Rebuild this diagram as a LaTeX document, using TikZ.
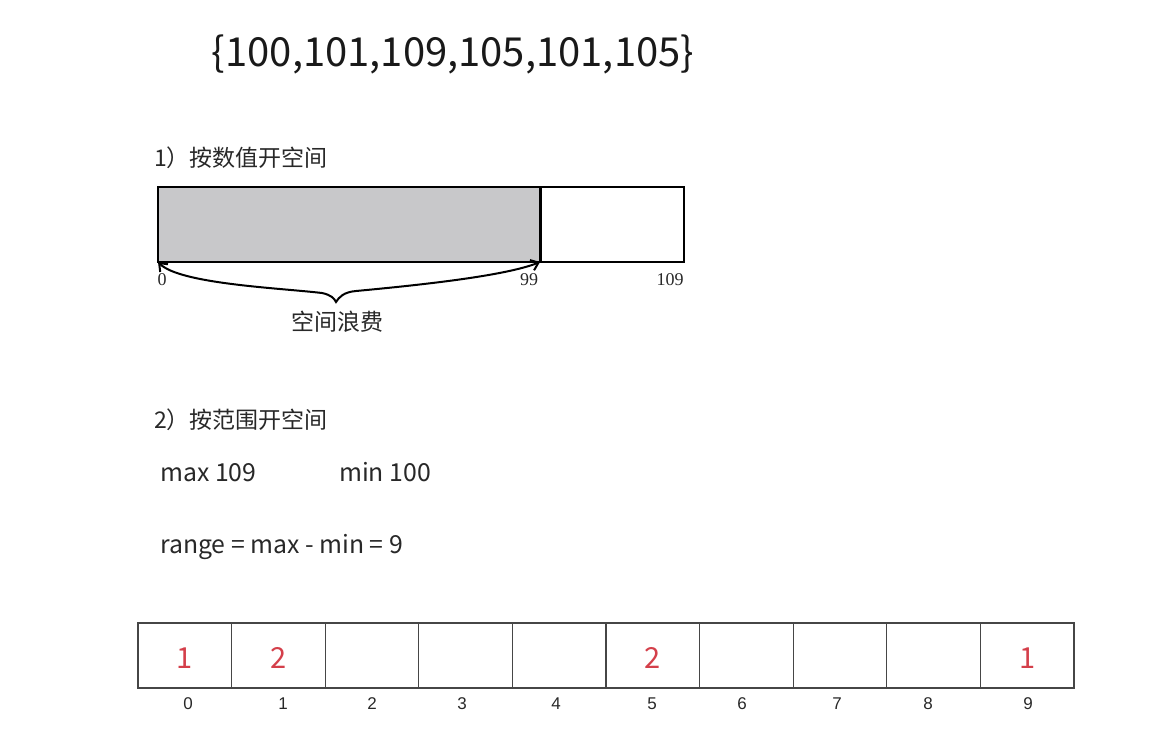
\documentclass[tikz,border=0pt]{standalone}
\usepackage{fontspec}
\setmainfont{Noto Sans CJK SC}
\newfontfamily\serifnum{Liberation Serif}
\newfontfamily\sansnum{Liberation Sans}
\usetikzlibrary{arrows.meta}
\definecolor{txt}{RGB}{40,40,40}
\definecolor{barfill}{RGB}{200,200,202}
\definecolor{cntred}{RGB}{212,63,74}
\definecolor{cellline}{RGB}{70,70,70}
\tikzset{
  heading/.style={font=\fontsize{23}{23}\selectfont, text=txt, inner sep=0pt},
  bodytext/.style={font=\fontsize{24.8}{25}\selectfont, text=txt, inner sep=0pt},
  barbox/.style={draw=black, line width=2pt, inner sep=0pt, outer sep=0pt, anchor=north west, minimum height=75pt},
  barnum/.style={font=\serifnum\fontsize{18}{18}\selectfont, text=txt, inner sep=0pt},
  bracepath/.style={line width=2pt, {Straight Barb[length=7pt,width=11pt]}-{Straight Barb[length=7pt,width=11pt]}},
  cellbox/.style={draw=cellline, line width=1.3pt, inner sep=0pt, outer sep=0pt, anchor=north west, minimum width=93.6pt, minimum height=65pt},
  cellval/.style={font=\fontsize{29}{29}\selectfont, text=cntred, inner sep=0pt},
  cellidx/.style={font=\sansnum\fontsize{17}{17}\selectfont, text=txt, inner sep=0pt},
}
\begin{document}
\begin{tikzpicture}[x=1pt,y=-1pt]
\useasboundingbox (0,0) rectangle (1166,732);

\node[font=\fontsize{40}{40}\selectfont, text=black!90, inner sep=0pt, anchor=base] (set) at (453,66) {\{100,101,109,105,101,105\}};

% section 1
\node[heading, anchor=base west] (h1) at (154,166) {1）按数值开空间};
\node[barbox, fill=barfill, minimum width=382pt] (used) at (158,187) {};
\node[barbox, minimum width=144pt] (rest) at (540,187) {};
\draw[line width=3pt] (used.north east) -- (used.south east);
\node[barnum, anchor=base] (n0) at (162,285) {0};
\node[barnum, anchor=base] (n99) at (529,285) {99};
\node[barnum, anchor=base] (n109) at (670,285) {109};
\coordinate (cusp) at (336,302);
\draw[bracepath] (used.south west) .. controls (180,284) and (280,288) .. (322,293)
   .. controls (331,295) and (334,298) .. (cusp)
   .. controls (339,297) and (344,292) .. (356,291)
   .. controls (420,285) and (505,276) .. (used.south east);
\node[heading, anchor=center] (waste) at (337,322) {空间浪费};

% section 2
\node[heading, anchor=base west] (h2) at (154,428) {2）按范围开空间};
\node[bodytext, anchor=base west] (max) at (160,481) {max 109};
\node[bodytext, anchor=base west] (min) at (339,481) {min 100};
\node[bodytext, anchor=base west] (range) at (160,553) {range = max - min = 9};

\foreach \i in {0,...,9} {
  \node[cellbox] (c\i) at ({138+93.6*\i},623) {};
}
\node[cellval] at ([yshift=-2.5pt]c0.center) {1};
\node[cellval] at ([yshift=-2.5pt]c1.center) {2};
\node[cellval] at ([yshift=-2.5pt]c5.center) {2};
\node[cellval] at ([yshift=-2.5pt]c9.center) {1};
\foreach \i/\x in {0/188,1/283,2/372,3/462,4/556,5/652,6/742,7/837,8/928,9/1028} {
  \node[cellidx, anchor=center] (i\i) at (\x,704) {\i};
}
\end{tikzpicture}
\end{document}
